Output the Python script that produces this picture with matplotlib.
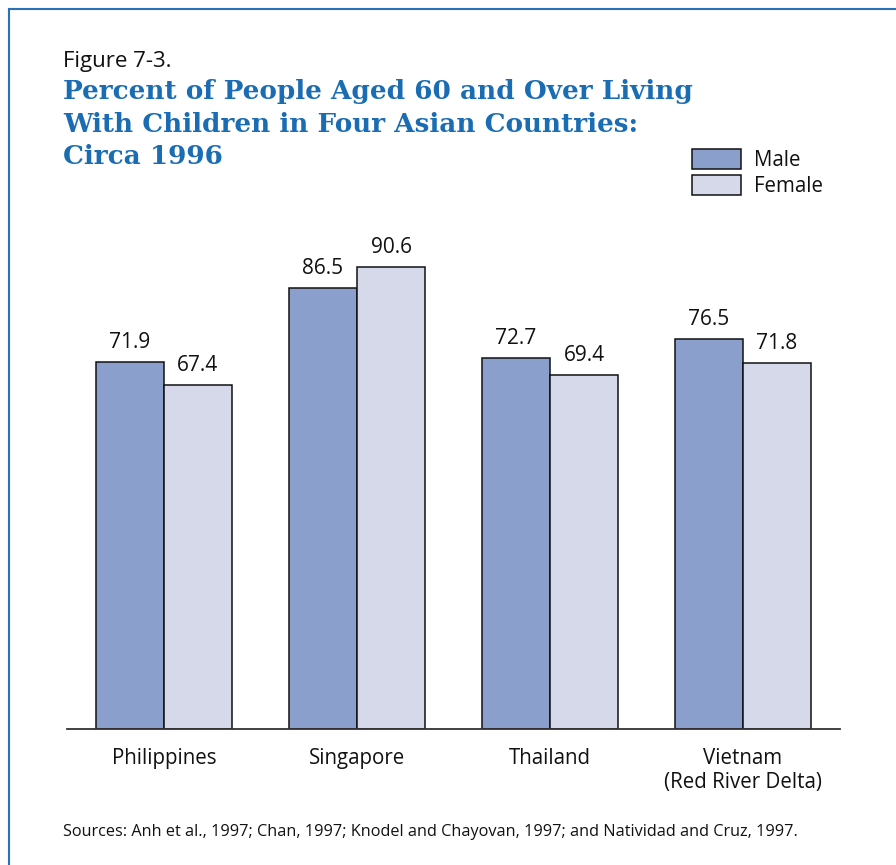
import matplotlib
matplotlib.use("Agg")
import matplotlib.pyplot as plt
from matplotlib.lines import Line2D
import numpy as np

categories = ["Philippines", "Singapore", "Thailand", "Vietnam\n(Red River Delta)"]
male = [71.9, 86.5, 72.7, 76.5]
female = [67.4, 90.6, 69.4, 71.8]
series_names = ["Male", "Female"]

W, H = 896, 865
fig = plt.figure(figsize=(W / 100, H / 100), dpi=100)
plt.rcParams['font.family'] = ['Open Sans', 'DejaVu Sans']

def fx(px):
    return px / W

def fy(py):
    return 1 - py / H

# axes: x from 67.5 to 839.5 px, baseline at 729 px, 100 units = 510.4 px
ax_left, ax_right = 67.5, 839.5
ax_bottom = 729
ax_top = 729 - 510.4
ax = fig.add_axes([fx(ax_left), fy(ax_bottom), fx(ax_right - ax_left), (ax_bottom - ax_top) / H])

male_c = "#8a9fcb"
female_c = "#d5d9ea"
x = np.arange(len(categories))
bw = 68 / 193
b1 = ax.bar(x - bw / 2, male, bw, color=male_c, edgecolor="#111111", linewidth=1.1, label=series_names[0])
b2 = ax.bar(x + bw / 2, female, bw, color=female_c, edgecolor="#111111", linewidth=1.1, label=series_names[1])

for bars, vals in ((b1, male), (b2, female)):
    for r, v in zip(bars, vals):
        ax.annotate(f"{v:.1f}", (r.get_x() + r.get_width() / 2, v), xytext=(0, 14.0),
                    textcoords="offset points", ha="center", va="center", fontsize=15, color="#111111")

ax.set_xlim(-0.5, 3.5)
ax.set_ylim(0, 100)
for s in ["top", "right", "left"]:
    ax.spines[s].set_visible(False)
ax.spines["bottom"].set_color("#333333")
ax.spines["bottom"].set_linewidth(1.3)
ax.set_yticks([])
ax.set_xticks(x)
ax.set_xticklabels(categories, fontsize=14.8, color="#111111", linespacing=1.2)
ax.tick_params(axis="x", length=0, pad=13.5)

leg = ax.legend(handles=[b1, b2], loc="upper left", bbox_to_anchor=(fx(692), fy(149)),
                bbox_transform=fig.transFigure, frameon=False, fontsize=14.8,
                handlelength=2.4, handleheight=1.12, handletextpad=0.6, labelspacing=0.2,
                borderpad=0.0, borderaxespad=0.0)
for t in leg.get_texts():
    t.set_color("#111111")

fig.text(fx(63), fy(62), "Figure 7-3.", fontsize=16, color="#111111", va="center", ha="left")
title_lines = ["Percent of People Aged 60 and Over Living",
               "With Children in Four Asian Countries:",
               "Circa 1996"]
for i, line in enumerate(title_lines):
    fig.text(fx(63), fy(92 + 32.5 * i), line, fontsize=18.9, fontweight="bold", color="#1a6cb3",
             family=["DejaVu Serif"], va="center", ha="left")

fig.text(fx(63), fy(831.5), "Sources: Anh et al., 1997; Chan, 1997; Knodel and Chayovan, 1997; and Natividad and Cruz, 1997.",
         fontsize=11.7, color="#111111", va="center", ha="left")

border_c = "#2a72b8"
fig.add_artist(Line2D([fx(9), 1], [fy(9), fy(9)], transform=fig.transFigure, color=border_c, linewidth=1.5))
fig.add_artist(Line2D([fx(9), fx(9)], [fy(9), 0], transform=fig.transFigure, color=border_c, linewidth=1.5))

fig.savefig("out.png", dpi=100)
